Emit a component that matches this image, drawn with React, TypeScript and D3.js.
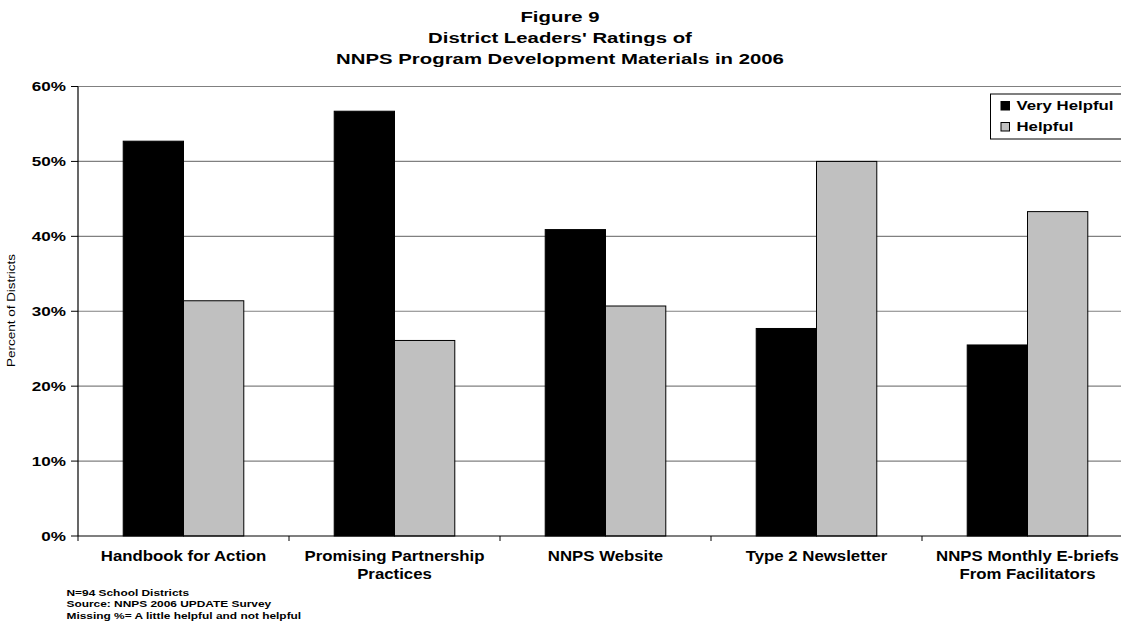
import React from "react";
import * as d3 from "d3";

const categories: string[][] = [
  ["Handbook for Action"],
  ["Promising Partnership", "Practices"],
  ["NNPS Website"],
  ["Type 2 Newsletter"],
  ["NNPS Monthly E-briefs", "From Facilitators"],
];
const seriesNames = ["Very Helpful", "Helpful"];
const veryHelpful = [52.7, 56.7, 40.9, 27.7, 25.5];
const helpful = [31.4, 26.1, 30.7, 50.0, 43.3];
const seriesColors = ["#000000", "#C0C0C0"];
const yTicks = [0, 10, 20, 30, 40, 50, 60];
const titleLines = [
  "Figure 9",
  "District Leaders' Ratings of",
  "NNPS Program Development Materials in 2006",
];
const notes = [
  "N=94 School Districts",
  "Source: NNPS 2006 UPDATE Survey",
  "Missing %= A little helpful and not helpful",
];
const yTitle = "Percent of Districts";

const FONT = "'Liberation Sans', Arial, Helvetica, sans-serif";

function SText(props: {
  x: number;
  y: number;
  sx?: number;
  size: number;
  anchor?: string;
  weight?: string | number;
  rotate?: number;
  children: React.ReactNode;
}) {
  const { x, y, sx = 1, size, anchor = "start", weight = "bold", rotate = 0, children } = props;
  return (
    <text
      transform={`translate(${x},${y}) rotate(${rotate}) scale(${sx},1)`}
      fontFamily={FONT}
      fontSize={size}
      fontWeight={weight}
      textAnchor={anchor}
      fill="#000"
    >
      {children}
    </text>
  );
}

export default function App() {
  const W = 1121;
  const H = 623;
  const left = 78;
  const step = 211;
  const y = d3.scaleLinear().domain([0, 60]).range([536, 86.5]);
  const x0 = d3
    .scaleBand<number>()
    .domain(categories.map((_, i) => i))
    .range([left, left + step * categories.length])
    .paddingInner(0)
    .paddingOuter(0);
  const x1 = d3
    .scaleBand<number>()
    .domain([0, 1])
    .range([0, x0.bandwidth()])
    .paddingInner(0)
    .paddingOuter(0.75);
  const series = [veryHelpful, helpful];
  const y0 = y(0);

  return (
    <svg
      width={W}
      height={H}
      style={{ position: "absolute", left: 0, top: 0, background: "#fff" }}
    >
      <rect x={0} y={0} width={W} height={H} fill="#fff" />
      {titleLines.map((t, i) => (
        <SText key={i} x={560} y={21.5 + i * 21} size={15.3} sx={1.33} anchor="middle">
          {t}
        </SText>
      ))}
      {/* gridlines */}
      {yTicks
        .filter((t) => t > 0)
        .map((t) => (
          <line
            key={t}
            x1={left}
            x2={W}
            y1={y(t)}
            y2={y(t)}
            stroke="#808080"
            strokeWidth={1.2}
          />
        ))}
      {/* bars */}
      {series.map((vals, si) =>
        vals.map((v, ci) => {
          const bx = (x0(ci) as number) + (x1(si) as number);
          return (
            <rect
              key={`${si}-${ci}`}
              x={bx}
              y={y(v)}
              width={x1.bandwidth()}
              height={y0 - y(v)}
              fill={seriesColors[si]}
              stroke="#000"
              strokeWidth={1}
            />
          );
        })
      )}
      {/* axes */}
      <line x1={left} x2={left} y1={y(60)} y2={y0} stroke="#000" strokeWidth={1.2} />
      <line x1={left} x2={W} y1={y0} y2={y0} stroke="#000" strokeWidth={1.2} />
      {yTicks.map((t) => (
        <g key={t}>
          <line x1={left - 7} x2={left} y1={y(t)} y2={y(t)} stroke="#000" strokeWidth={1} />
          <SText x={66} y={y(t) + 4.5} size={12.4} sx={1.38} anchor="end">
            {`${t}%`}
          </SText>
        </g>
      ))}
      {categories.map((_, i) => (
        <line
          key={i}
          x1={x0(i) as number}
          x2={x0(i) as number}
          y1={y0}
          y2={y0 + 5}
          stroke="#000"
          strokeWidth={1}
        />
      ))}
      {categories.map((lines, i) => (
        <g key={i}>
          {lines.map((ln, j) => (
            <SText
              key={j}
              x={(x0(i) as number) + x0.bandwidth() / 2}
              y={561 + j * 17.5}
              size={14}
              sx={1.2}
              anchor="middle"
            >
              {ln}
            </SText>
          ))}
        </g>
      ))}
      <SText x={15} y={310.5} size={10} sx={1.35} anchor="middle" weight="normal" rotate={-90}>
        {yTitle}
      </SText>
      {/* legend */}
      <rect x={990.5} y={94} width={160} height={45} fill="#fff" stroke="#000" strokeWidth={1} />
      {seriesNames.map((s, i) => (
        <g key={s}>
          <rect
            x={1001}
            y={101.5 + i * 21}
            width={8.5}
            height={8.5}
            fill={seriesColors[i]}
            stroke="#000"
            strokeWidth={1}
          />
          <SText x={1016.5} y={110 + i * 21} size={12} sx={1.4}>
            {s}
          </SText>
        </g>
      ))}
      {/* notes */}
      {notes.map((n, i) => (
        <SText key={i} x={66.5} y={596 + i * 11.3} size={9.3} sx={1.28}>
          {n}
        </SText>
      ))}
    </svg>
  );
}
